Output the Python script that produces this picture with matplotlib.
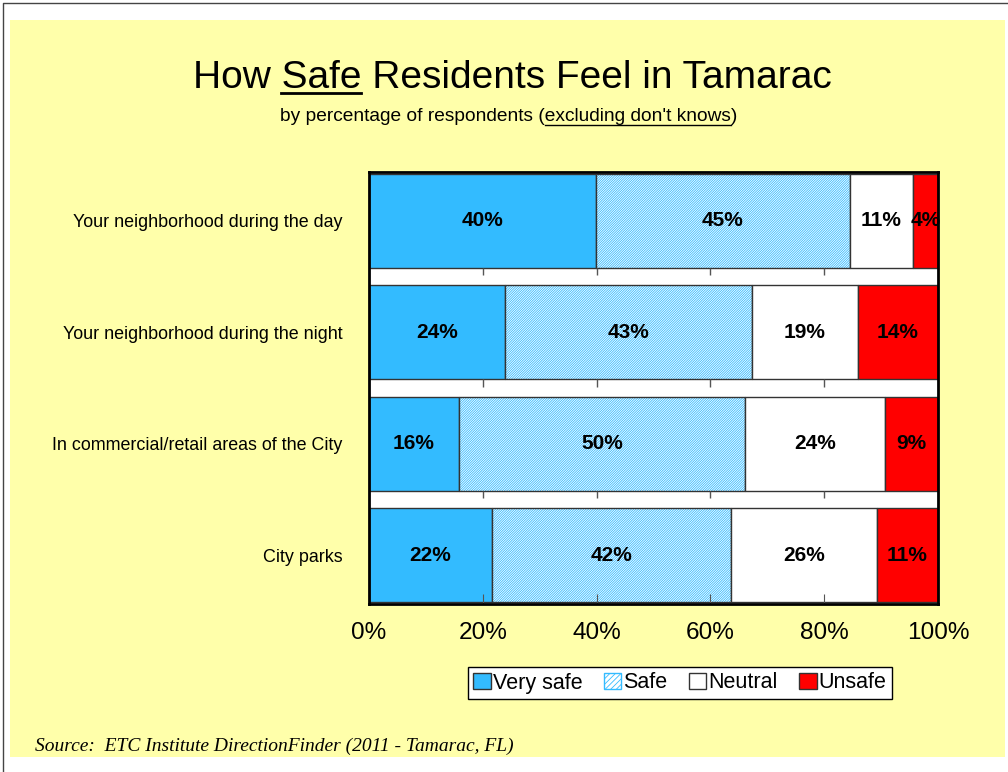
import numpy as np
import matplotlib
matplotlib.use("Agg")
import matplotlib.pyplot as plt
from matplotlib.patches import Patch, Rectangle
from matplotlib.lines import Line2D

plt.rcParams['font.family'] = ['Liberation Sans', 'DejaVu Sans']
plt.rcParams['hatch.linewidth'] = 0.6

categories = ["Your neighborhood during the day",
              "Your neighborhood during the night",
              "In commercial/retail areas of the City",
              "City parks"]
series = ["Very safe", "Safe", "Neutral", "Unsafe"]
very_safe = [39.9, 23.9, 15.8, 21.6]
safe = [44.6, 43.4, 50.3, 42.1]
neutral = [11.1, 18.6, 24.5, 25.5]
unsafe = [4.4, 14.1, 9.4, 10.8]
x_ticks = [0, 20, 40, 60, 80, 100]
x_labels = ["0%", "20%", "40%", "60%", "80%", "100%"]

BLUE = "#33BBFF"
RED = "#FF0000"
YELLOW = "#FFFFAA"
EDGE = "#333333"
HATCH = "/" * 14

W, H = 1008, 772
fig = plt.figure(figsize=(W / 100, H / 100), dpi=100)
fig.patch.set_facecolor("white")

# yellow panel + thin page border
fig.patches.append(Rectangle((10 / W, 1 - 757 / H), 995 / W, 737 / H,
                             transform=fig.transFigure, facecolor=YELLOW,
                             edgecolor="none", zorder=-10))
fig.lines.append(Line2D([3 / W, 3 / W, 1], [0, 1 - 3 / H, 1 - 3 / H],
                        transform=fig.transFigure, color="#444444", lw=1))

ax = fig.add_axes([369 / W, 1 - 604 / H, (938 - 369) / W, (604 - 172) / H])
ax.set_facecolor("white")

y = np.arange(len(categories))
h = 0.845
vs = np.array(very_safe)
sf = np.array(safe)
nt = np.array(neutral)
us = np.array(unsafe)

c1 = ax.barh(y, vs, height=h, color=BLUE, edgecolor=EDGE, lw=1)
ax.barh(y, sf, left=vs, height=h, color="white", edgecolor=BLUE,
        hatch=HATCH, lw=0)
c2 = ax.barh(y, sf, left=vs, height=h, fill=False, edgecolor=EDGE, lw=1)
c3 = ax.barh(y, nt, left=vs + sf, height=h, color="white", edgecolor=EDGE, lw=1)
c4 = ax.barh(y, us, left=vs + sf + nt, height=h, color=RED, edgecolor=EDGE, lw=1)

for cont, vals in [(c1, vs), (c2, sf), (c3, nt), (c4, us)]:
    ax.bar_label(cont, labels=[f"{v:.0f}%" for v in vals], label_type="center",
                 fontsize=15, fontweight="bold")

# little tick marks in the gaps between bars
for i in range(len(categories) - 1):
    ax.vlines(x_ticks[1:-1], i + h / 2, i + h / 2 + 0.065, color="#555555", lw=1)

ax.set_xlim(0, 100)
ax.set_ylim(len(categories) - 1 + 0.44, -0.44)
ax.set_xticks(x_ticks, x_labels)
ax.set_yticks(y, categories)
ax.tick_params(axis="x", direction="in", length=7, color="#555555",
               labelsize=17.6, pad=13)
ax.tick_params(axis="y", length=0, pad=19, labelsize=12.9)
for s in ax.spines.values():
    s.set_linewidth(2)
    s.set_color("black")

handles = [Patch(facecolor=BLUE, edgecolor=EDGE),
           Patch(facecolor="white", edgecolor=BLUE, hatch="//////"),
           Patch(facecolor="white", edgecolor=EDGE),
           Patch(facecolor=RED, edgecolor=EDGE)]
leg = fig.legend(handles, series, loc="center",
                 bbox_to_anchor=(680 / W, 1 - 683 / H), ncol=4, fontsize=15.5,
                 frameon=True, fancybox=False, edgecolor="black",
                 handlelength=0.8, handleheight=0.8, handletextpad=0.1,
                 columnspacing=1.0, borderpad=0.25, borderaxespad=0)
leg.get_frame().set_alpha(1)
leg.get_frame().set_linewidth(1)

# titles with underlined words
TS, SS = 28, 13.8
title = "How Safe Residents Feel in Tamarac"
sub = "by percentage of respondents (excluding don't knows)"
t1 = fig.text(512 / W, 1 - 88 / H, title, ha="center", va="baseline", fontsize=TS)
t2 = fig.text(509 / W, 1 - 121 / H, sub, ha="center", va="baseline", fontsize=SS)

fig.canvas.draw()
r = fig.canvas.get_renderer()


def width(s, size):
    t = fig.text(0, 0, s, fontsize=size)
    w = t.get_window_extent(r).width
    t.remove()
    return w


def underline(txt, upto, word, size, ypx, lw):
    x0 = txt.get_window_extent(r).x0
    end = x0 + width(upto, size)
    start = end - width(word, size)
    fig.lines.append(Line2D([start / W, end / W], [1 - ypx / H, 1 - ypx / H],
                            transform=fig.transFigure, color="black", lw=lw))


underline(t1, "How Safe", "Safe", TS, 93, 2)
underline(t2, "by percentage of respondents (excluding don't knows",
          "excluding don't knows", SS, 125, 1)

fig.text(35 / W, 1 - 746 / H, "Source:  ETC Institute DirectionFinder (2011 - Tamarac, FL)",
         family="Liberation Serif", style="italic", fontsize=14, va="center")

fig.savefig("out.png", dpi=100)
